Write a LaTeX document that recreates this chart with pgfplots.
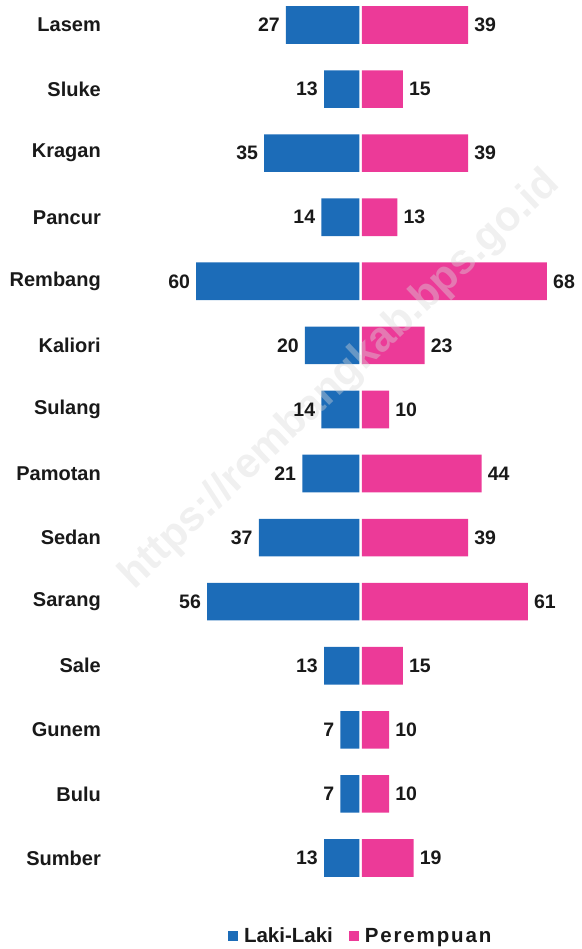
\documentclass[border=0pt]{standalone}
\usepackage{pgfplots}
\pgfplotsset{compat=1.18}
\usepackage{fontspec}
\setmainfont{Liberation Sans}
\definecolor{lblue}{HTML}{1C6CB8}
\definecolor{ppink}{HTML}{EC3A98}
\begin{document}
\begin{tikzpicture}
\begin{axis}[
  name=ax,
  scale only axis,
  width=477.4pt, height=883.6pt,
  xmin=-94, xmax=81.5,
  ymin=-0.39, ymax=13.4,
  y dir=reverse,
  xbar, bar width=37.6pt, bar shift=0pt,
  hide x axis,
  axis y line*=left,
  y axis line style={draw=none},
  ytick={0,...,13},
  yticklabels={Lasem,Sluke,Kragan,Pancur,Rembang,Kaliori,Sulang,Pamotan,Sedan,Sarang,Sale,Gunem,Bulu,Sumber},
  major tick length=0pt,
  ytick style={draw=none},
  yticklabel style={font=\fontsize{20}{22}\selectfont\bfseries, inner sep=0pt, xshift=-4pt, text=black!90},
  /pgf/number format/assume math mode=true,
  point meta=explicit,
  nodes near coords={\pgfmathprintnumber{\pgfplotspointmeta}},
  nodes near coords style={font=\fontsize{19.5}{22}\selectfont\bfseries, text=black!90, inner sep=0pt},
  clip=false,
  legend columns=2,
  legend style={draw=none, fill=none, at={(axis description cs:0.5356,-0.045)}, anchor=north,
    font=\fontsize{20.5}{22}\selectfont\bfseries, text=black!90, inner xsep=0pt,
    /tikz/every odd column/.append style={column sep=4pt},
    /tikz/every even column/.append style={column sep=14pt}},
  legend image code/.code={\fill[#1] (0pt,-5pt) rectangle (10pt,5pt);},
]
\addplot[fill=lblue, draw=none, xshift=-1.3pt,
  every node near coord/.append style={anchor=east, xshift=-6pt}]
  coordinates {(-27,0)[27] (-13,1)[13] (-35,2)[35] (-14,3)[14] (-60,4)[60] (-20,5)[20] (-14,6)[14]
               (-21,7)[21] (-37,8)[37] (-56,9)[56] (-13,10)[13] (-7,11)[7] (-7,12)[7] (-13,13)[13]};
\addlegendentry{Laki-Laki}
\addplot[fill=ppink, draw=none, xshift=1.3pt,
  every node near coord/.append style={anchor=west, xshift=6pt}]
  coordinates {(39,0)[39] (15,1)[15] (39,2)[39] (13,3)[13] (68,4)[68] (23,5)[23] (10,6)[10]
               (44,7)[44] (39,8)[39] (61,9)[61] (15,10)[15] (10,11)[10] (10,12)[10] (19,13)[19]};
\addlegendentry{\addfontfeature{LetterSpace=9}Perempuan}
\node[rotate=43.5, font=\fontsize{42}{44}\selectfont\bfseries, text=gray!30, opacity=0.4]
  at (axis cs:-7.6,5.54) {https://rembangkab.bps.go.id};
\end{axis}
\pgfresetboundingbox
\path[use as bounding box] ([xshift=-105pt,yshift=-65.4pt]ax.south west) rectangle ([xshift=-0.7pt]ax.north east);
\end{tikzpicture}
\end{document}
